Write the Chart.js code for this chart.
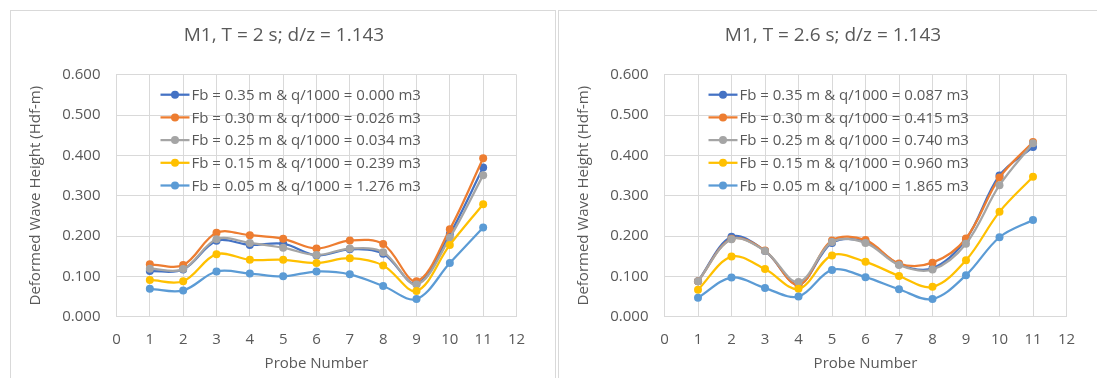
<!DOCTYPE html>
<html>
<head>
<meta charset="utf-8">
<script src="https://cdn.jsdelivr.net/npm/chart.js@4/dist/chart.umd.min.js"></script>
<style>
  html, body { margin: 0; padding: 0; background: #fff; overflow: hidden; }
  body { width: 1097px; height: 378px; position: relative; }
  .box { position: absolute; top: 10px; width: 546px; height: 380px; border: 1px solid #d9d9d9; box-sizing: border-box; }
  .box canvas { position: absolute; left: 0; top: 0; }
  #box1 { left: 10px; }
  #box2 { left: 558px; width: 548px; }
</style>
</head>
<body>
<div class="box" id="box1"><canvas id="chart1" width="546" height="368"></canvas></div>
<div class="box" id="box2"><canvas id="chart2" width="548" height="368"></canvas></div>
<script>
const probes = [1, 2, 3, 4, 5, 6, 7, 8, 9, 10, 11];
const xTicks = [0, 1, 2, 3, 4, 5, 6, 7, 8, 9, 10, 11, 12];
const yTicks = [0, 0.1, 0.2, 0.3, 0.4, 0.5, 0.6];
const colors = ['#4472C4', '#ED7D31', '#A5A5A5', '#FFC000', '#5B9BD5'];

// T = 2 s
const title1 = 'M1, T = 2 s; d/z = 1.143';
const labels1 = [
  'Fb = 0.35 m & q/1000 = 0.000 m3',
  'Fb = 0.30 m & q/1000 = 0.026 m3',
  'Fb = 0.25 m & q/1000 = 0.034 m3',
  'Fb = 0.15 m & q/1000 = 0.239 m3',
  'Fb = 0.05 m & q/1000 = 1.276 m3'
];
const fb035_t2 = [0.113, 0.117, 0.188, 0.178, 0.181, 0.152, 0.167, 0.156, 0.082, 0.205, 0.370];
const fb030_t2 = [0.130, 0.128, 0.208, 0.202, 0.193, 0.169, 0.189, 0.180, 0.088, 0.217, 0.393];
const fb025_t2 = [0.119, 0.118, 0.192, 0.183, 0.171, 0.153, 0.169, 0.160, 0.080, 0.196, 0.351];
const fb015_t2 = [0.091, 0.088, 0.155, 0.141, 0.141, 0.133, 0.145, 0.127, 0.064, 0.178, 0.279];
const fb005_t2 = [0.069, 0.065, 0.112, 0.107, 0.100, 0.112, 0.105, 0.076, 0.044, 0.133, 0.221];

// T = 2.6 s
const title2 = 'M1, T = 2.6 s; d/z = 1.143';
const labels2 = [
  'Fb = 0.35 m & q/1000 = 0.087 m3',
  'Fb = 0.30 m & q/1000 = 0.415 m3',
  'Fb = 0.25 m & q/1000 = 0.740 m3',
  'Fb = 0.15 m & q/1000 = 0.960 m3',
  'Fb = 0.05 m & q/1000 = 1.865 m3'
];
const fb035_t26 = [0.088, 0.198, 0.163, 0.080, 0.183, 0.186, 0.130, 0.120, 0.192, 0.350, 0.421];
const fb030_t26 = [0.088, 0.193, 0.164, 0.079, 0.189, 0.190, 0.132, 0.134, 0.194, 0.345, 0.433];
const fb025_t26 = [0.088, 0.192, 0.163, 0.086, 0.185, 0.183, 0.128, 0.117, 0.181, 0.326, 0.430];
const fb015_t26 = [0.067, 0.149, 0.118, 0.069, 0.152, 0.136, 0.101, 0.074, 0.140, 0.260, 0.347];
const fb005_t26 = [0.047, 0.097, 0.071, 0.050, 0.116, 0.098, 0.068, 0.044, 0.103, 0.197, 0.240];

const FONT = "'Open Sans', 'Liberation Sans', sans-serif";
const TEXT = '#595959';
const GRID = '#d9d9d9';

// legend drawn inside the plot area, like the Excel original
const insideLegend = {
  id: 'insideLegend',
  afterDatasetsDraw(chart) {
    const ctx = chart.ctx;
    const area = chart.chartArea;
    ctx.save();
    ctx.font = '15px ' + FONT;
    ctx.textBaseline = 'middle';
    ctx.textAlign = 'left';
    chart.data.datasets.forEach((ds, i) => {
      const y = area.top + 20 + i * 22.7;
      const x0 = area.left + 44;
      ctx.strokeStyle = ds.borderColor;
      ctx.lineWidth = 2.25;
      ctx.beginPath();
      ctx.moveTo(x0, y);
      ctx.lineTo(x0 + 29, y);
      ctx.stroke();
      ctx.fillStyle = ds.borderColor;
      ctx.beginPath();
      ctx.arc(x0 + 14.5, y, 4, 0, Math.PI * 2);
      ctx.fill();
      ctx.fillStyle = TEXT;
      ctx.fillText(ds.label, x0 + 31, y + 1);
    });
    ctx.restore();
  }
};

function makeChart(id, title, labels, series) {
  return new Chart(document.getElementById(id), {
    type: 'line',
    data: {
      datasets: series.map((vals, i) => ({
        label: labels[i],
        data: probes.map((p, j) => ({ x: p, y: vals[j] })),
        borderColor: colors[i],
        backgroundColor: colors[i],
        borderWidth: 2.25,
        pointRadius: 4,
        pointBorderWidth: 0,
        tension: 0.35,
        order: -i
      }))
    },
    options: {
      responsive: false,
      animation: false,
      layout: { padding: 0 },
      plugins: {
        legend: { display: false },
        tooltip: { enabled: false },
        title: {
          display: true,
          text: title,
          color: TEXT,
          font: { family: FONT, size: 19, weight: 'normal', lineHeight: 1.2 },
          padding: { top: 13.5, bottom: 27.4 }
        }
      },
      scales: {
        x: {
          type: 'linear',
          min: 0, max: 12,
          afterBuildTicks: s => { s.ticks = xTicks.map(v => ({ value: v })); },
          afterFit: s => { s.height = 62.3; },
          grid: { color: GRID, drawTicks: false },
          border: { color: GRID },
          ticks: { color: TEXT, font: { family: FONT, size: 15 }, padding: 14 },
          title: {
            display: true, text: 'Probe Number', color: TEXT,
            font: { family: FONT, size: 15 }, padding: { top: 0, bottom: 6 }
          }
        },
        y: {
          min: 0, max: 0.6,
          afterBuildTicks: s => { s.ticks = yTicks.map(v => ({ value: v })); },
          afterFit: s => { s.width = 105.5; },
          grid: { color: GRID, drawTicks: false },
          border: { color: GRID },
          ticks: {
            color: TEXT, font: { family: FONT, size: 15 }, padding: 16,
            callback: v => v.toFixed(3)
          },
          title: {
            display: true, text: 'Deformed Wave Height (Hdf-m)', color: TEXT,
            font: { family: FONT, size: 15 }, padding: { top: 16, bottom: 0 }
          }
        },
        // empty right-hand spacer so the title stays centred on the whole box
        spacer: {
          position: 'right',
          display: true,
          grid: { display: false },
          border: { display: false },
          ticks: { display: false },
          afterFit: s => { s.width = 40.5; }
        }
      }
    },
    plugins: [insideLegend]
  });
}

makeChart('chart1', title1, labels1, [fb035_t2, fb030_t2, fb025_t2, fb015_t2, fb005_t2]);
makeChart('chart2', title2, labels2, [fb035_t26, fb030_t26, fb025_t26, fb015_t26, fb005_t26]);
</script>
</body>
</html>
